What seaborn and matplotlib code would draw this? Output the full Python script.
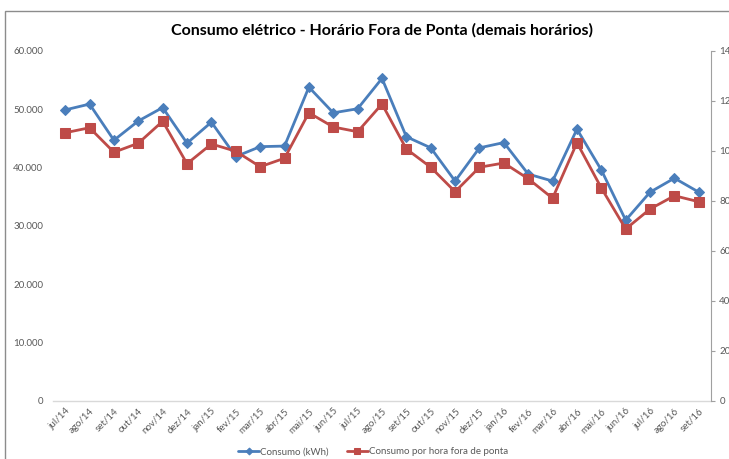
import numpy as np
import pandas as pd
import matplotlib
matplotlib.use("Agg")
import matplotlib.pyplot as plt
import matplotlib.ticker as mticker
from matplotlib.patches import Rectangle
import seaborn as sns

# data
meses = ["jul/14", "ago/14", "set/14", "out/14", "nov/14", "dez/14",
         "jan/15", "fev/15", "mar/15", "abr/15", "mai/15", "jun/15",
         "jul/15", "ago/15", "set/15", "out/15", "nov/15", "dez/15",
         "jan/16", "fev/16", "mar/16", "abr/16", "mai/16", "jun/16",
         "jul/16", "ago/16", "set/16"]
consumo_kwh = [49900, 50900, 44700, 48000, 50300, 44200,
               47800, 41900, 43600, 43700, 53800, 49400,
               50100, 55300, 45300, 43400, 37700, 43400,
               44300, 38900, 37700, 46600, 39600, 31000,
               35800, 38200, 35800]
consumo_por_hora = [107.3, 109.3, 99.5, 103.1, 111.9, 94.9,
                    102.8, 99.9, 93.7, 97.1, 115.3, 109.6,
                    107.7, 118.8, 100.8, 93.5, 83.7, 93.5,
                    95.2, 88.9, 81.1, 103.3, 85.2, 68.8,
                    76.8, 82.1, 79.7]

df = pd.DataFrame({"mes": meses, "pos": np.arange(len(meses)),
                   "consumo": consumo_kwh, "por_hora": consumo_por_hora})

AZUL = "#4A7EBB"
VERMELHO = "#BE4B48"
CINZA = "#595959"

sns.set_style("white")
plt.rcParams["font.family"] = ["Lato", "DejaVu Sans"]

fig = plt.figure(figsize=(7.29, 4.59), dpi=100)
ax = fig.add_axes([0.0727, 0.1264, 0.9026, 0.7625])
ax2 = ax.twinx()

sns.lineplot(data=df, x="pos", y="consumo", ax=ax, sort=False, color=AZUL,
             marker="D", markersize=5, markeredgecolor=AZUL, linewidth=2,
             label="Consumo (kWh)", legend=False)
sns.lineplot(data=df, x="pos", y="por_hora", ax=ax2, sort=False, color=VERMELHO,
             marker="s", markersize=7, markeredgecolor=VERMELHO, linewidth=2,
             label="Consumo por hora fora de ponta", legend=False)

ax.set_xlim(-0.5, len(meses) - 0.5)
ax.set_ylim(0, 60000)
ax2.set_ylim(0, 140)
ax.set_yticks(np.arange(0, 60001, 10000))
ax2.set_yticks(np.arange(0, 141, 20))
ax.yaxis.set_major_formatter(mticker.FuncFormatter(lambda v, p: f"{int(v):,}".replace(",", ".")))
ax.set_xticks(df["pos"])
ax.set_xticklabels(meses, rotation=45, ha="right", rotation_mode="anchor")
ax.set_xlabel("")
ax.set_ylabel("")
ax2.set_ylabel("")

ax.tick_params(axis="y", length=0, pad=7, labelsize=7, labelcolor=CINZA)
ax.tick_params(axis="x", length=0, pad=4, labelsize=7, labelcolor=CINZA)
ax2.tick_params(axis="y", length=3, width=0.8, color="#A0A0A0", pad=3,
                labelsize=7, labelcolor=CINZA)

for a in (ax, ax2):
    for s in ("top", "left"):
        a.spines[s].set_visible(False)
    a.spines["right"].set_visible(False)
    a.spines["bottom"].set_visible(False)
ax2.spines["right"].set_visible(True)
ax2.spines["right"].set_color("#A0A0A0")
ax2.spines["right"].set_linewidth(0.8)
ax.spines["bottom"].set_visible(True)
ax.spines["bottom"].set_color("#D9D9D9")
ax.spines["bottom"].set_linewidth(1)

ax.set_title("Consumo elétrico - Horário Fora de Ponta (demais horários)",
             fontsize=11.5, fontweight="bold", color="black", pad=12)

h1, l1 = ax.get_legend_handles_labels()
h2, l2 = ax2.get_legend_handles_labels()
fig.legend(h1 + h2, l1 + l2, loc="center", bbox_to_anchor=(373 / 729, 1 - 452 / 459),
           ncol=2, frameon=False, fontsize=7, handlelength=2.2, handletextpad=0.1,
           columnspacing=1.8, labelcolor=CINZA, markerscale=0.7)

# outer chart border (cropped at right and bottom in the reference)
fig.patches.append(Rectangle((5 / 729, -0.1), 1.2, 1.1 - 11 / 459 + 0.0,
                             transform=fig.transFigure, fill=False,
                             edgecolor="#8C8C8C", linewidth=1))

fig.savefig("out.png", dpi=100)
